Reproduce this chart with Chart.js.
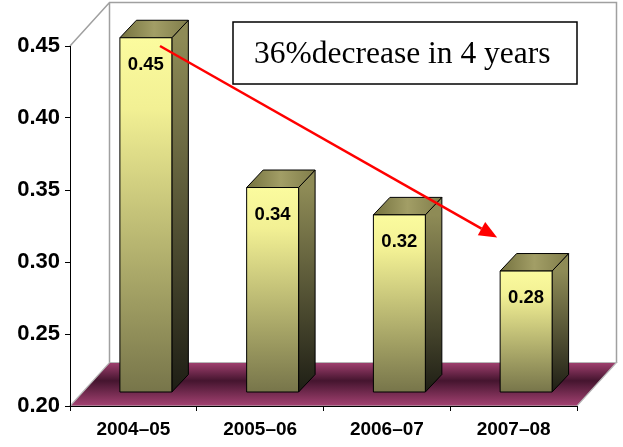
<!DOCTYPE html>
<html>
<head>
<meta charset="utf-8">
<script src="https://cdn.jsdelivr.net/npm/chart.js@4.4.1/dist/chart.umd.min.js"></script>
<style>
  html, body { margin: 0; padding: 0; background: #fff; }
</style>
</head>
<body>
<canvas id="myChart" width="623" height="447"></canvas>
<script>
const years = ['2004–05', '2005–06', '2006–07', '2007–08'];
const values = [0.446, 0.342, 0.323, 0.284];
const valueLabels = ['0.45', '0.34', '0.32', '0.28'];
const yTicks = [0.20, 0.25, 0.30, 0.35, 0.40, 0.45];
const note = '36%decrease in 4 years';
// arrow ends in data units: [category index, value]
const arrowFrom = [0.21, 0.45];
const arrowTo = [2.87, 0.317];

// 3d offsets
const DX = 39.5, DY = -43.5;     // depth of walls / floor
const BX = 12.5, BY = -14;       // bar front face pushed back
const BDX = 16.5, BDY = -17.5;   // bar depth

const walls = {
  id: 'walls',
  beforeDraw(chart) {
    const { ctx, chartArea: a } = chart;
    ctx.save();
    // floor
    const g = ctx.createLinearGradient(0, a.bottom + DY, 0, a.bottom);
    g.addColorStop(0, '#a0406f');
    g.addColorStop(0.42, '#45152f');
    g.addColorStop(1, '#a44272');
    ctx.fillStyle = g;
    ctx.beginPath();
    ctx.moveTo(a.left, a.bottom);
    ctx.lineTo(a.right, a.bottom);
    ctx.lineTo(a.right + DX, a.bottom + DY);
    ctx.lineTo(a.left + DX, a.bottom + DY);
    ctx.closePath();
    ctx.fill();
    ctx.strokeStyle = '#b8b8b8';
    ctx.lineWidth = 1.2;
    ctx.stroke();
    // back wall + left wall edge
    ctx.strokeStyle = '#a0a0a0';
    ctx.lineWidth = 1.5;
    ctx.beginPath();
    ctx.moveTo(a.left, a.top);
    ctx.lineTo(a.left + DX, a.top + DY);
    ctx.lineTo(a.right + DX, a.top + DY);
    ctx.lineTo(a.right + DX, a.bottom + DY);
    ctx.moveTo(a.left + DX, a.top + DY);
    ctx.lineTo(a.left + DX, a.bottom + DY);
    ctx.stroke();
    ctx.restore();
  }
};

const bars3d = {
  id: 'bars3d',
  afterDatasetsDraw(chart) {
    const ctx = chart.ctx;
    const meta = chart.getDatasetMeta(0);
    const yScale = chart.scales.y;
    const base = yScale.getPixelForValue(yScale.min);
    ctx.save();
    ctx.strokeStyle = '#000';
    ctx.lineWidth = 1;
    ctx.lineJoin = 'round';
    meta.data.forEach((bar, i) => {
      const l = bar.x - bar.width / 2 + BX, r = bar.x + bar.width / 2 + BX;
      const t = bar.y + BY, b = base + BY;
      // side face
      let g = ctx.createLinearGradient(0, t, 0, b);
      g.addColorStop(0, '#8e8b56');
      g.addColorStop(1, '#1e1e15');
      ctx.fillStyle = g;
      ctx.beginPath();
      ctx.moveTo(r, t); ctx.lineTo(r + BDX, t + BDY);
      ctx.lineTo(r + BDX, b + BDY); ctx.lineTo(r, b);
      ctx.closePath(); ctx.fill(); ctx.stroke();
      // top face
      g = ctx.createLinearGradient(l, 0, r + BDX, 0);
      g.addColorStop(0, '#75723f');
      g.addColorStop(0.5, '#a29e66');
      g.addColorStop(1, '#807d4a');
      ctx.fillStyle = g;
      ctx.beginPath();
      ctx.moveTo(l, t); ctx.lineTo(l + BDX, t + BDY);
      ctx.lineTo(r + BDX, t + BDY); ctx.lineTo(r, t);
      ctx.closePath(); ctx.fill(); ctx.stroke();
      // front face
      g = ctx.createLinearGradient(0, t, 0, b);
      g.addColorStop(0, '#fbfb9e');
      g.addColorStop(0.2, '#f2f094');
      g.addColorStop(1, '#77754a');
      ctx.fillStyle = g;
      ctx.beginPath();
      ctx.rect(l, t, r - l, b - t);
      ctx.fill(); ctx.stroke();
      // value label
      ctx.fillStyle = '#000';
      ctx.font = 'bold 18.5px "Liberation Sans", Arial, sans-serif';
      ctx.textAlign = 'center';
      ctx.textBaseline = 'alphabetic';
      ctx.fillText(valueLabels[i], (l + r) / 2, t + 32);
    });
    ctx.restore();
  }
};

const notes = {
  id: 'notes',
  afterDraw(chart) {
    const { ctx, chartArea: a, scales } = chart;
    const x0 = scales.x.getPixelForValue(arrowFrom[0]), y0 = scales.y.getPixelForValue(arrowFrom[1]);
    const x1 = scales.x.getPixelForValue(arrowTo[0]), y1 = scales.y.getPixelForValue(arrowTo[1]);
    ctx.save();
    const ang = Math.atan2(y1 - y0, x1 - x0);
    const hl = 18, hw = 7.5;
    const bx = x1 - hl * Math.cos(ang), by = y1 - hl * Math.sin(ang);
    ctx.strokeStyle = '#ff0000';
    ctx.lineWidth = 2.5;
    ctx.beginPath();
    ctx.moveTo(x0, y0); ctx.lineTo(bx, by);
    ctx.stroke();
    ctx.fillStyle = '#ff0000';
    ctx.beginPath();
    ctx.moveTo(x1, y1);
    ctx.lineTo(bx + hw * Math.sin(ang), by - hw * Math.cos(ang));
    ctx.lineTo(bx - hw * Math.sin(ang), by + hw * Math.cos(ang));
    ctx.closePath();
    ctx.fill();

    // text box
    const bl = a.right - 344, bt = 22, bw = 344, bh = 62;
    ctx.fillStyle = '#fff';
    ctx.fillRect(bl, bt, bw, bh);
    ctx.strokeStyle = '#000';
    ctx.lineWidth = 1.5;
    ctx.strokeRect(bl, bt, bw, bh);
    ctx.fillStyle = '#000';
    ctx.font = '31.5px "Liberation Serif", "Times New Roman", serif';
    ctx.textAlign = 'left';
    ctx.textBaseline = 'alphabetic';
    ctx.fillText(note, bl + 21, 63);
    ctx.restore();
  }
};

const ctx = document.getElementById('myChart');

new Chart(ctx, {
  type: 'bar',
  data: {
    labels: years,
    datasets: [{
      data: values,
      backgroundColor: 'rgba(0,0,0,0)',
      borderWidth: 0,
      categoryPercentage: 1,
      barPercentage: 0.41
    }]
  },
  options: {
    responsive: false,
    animation: false,
    events: [],
    layout: { padding: { top: 46, right: 46, left: 0, bottom: 0 } },
    plugins: {
      legend: { display: false },
      tooltip: { enabled: false }
    },
    scales: {
      x: {
        grid: { display: true, drawOnChartArea: false, tickLength: 5, color: '#000', offset: true },
        border: { color: '#000', width: 1 },
        ticks: {
          color: '#000',
          padding: 7,
          font: { family: '"Liberation Sans", Arial, sans-serif', size: 19, weight: 'bold' }
        },
        afterFit(s) { s.height = 41; }
      },
      y: {
        min: 0.2,
        max: 0.45,
        afterBuildTicks(s) { s.ticks = yTicks.map(v => ({ value: v })); },
        grid: { drawOnChartArea: false, tickLength: 5, color: '#000' },
        border: { color: '#000', width: 1 },
        ticks: {
          color: '#000',
          padding: 5,
          callback: v => v.toFixed(2),
          font: { family: '"Liberation Sans", Arial, sans-serif', size: 22, weight: 'bold' }
        },
        afterFit(s) { s.width = 70; }
      }
    }
  },
  plugins: [walls, bars3d, notes]
});
</script>
</body>
</html>
